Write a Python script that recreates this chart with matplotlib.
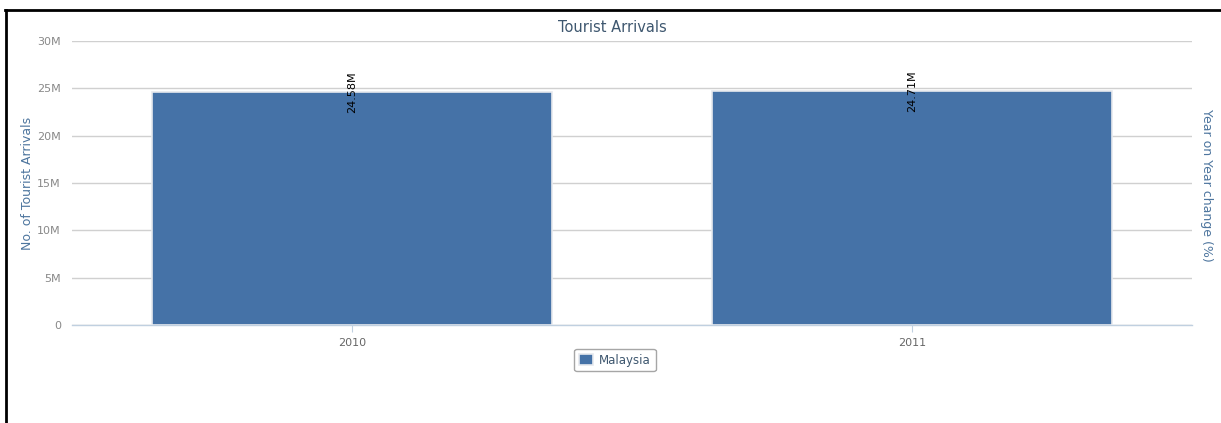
import matplotlib
matplotlib.use("Agg")
import matplotlib.pyplot as plt
from matplotlib.lines import Line2D
from matplotlib.ticker import FuncFormatter

years = ["2010", "2011"]
arrivals = [24.58e6, 24.71e6]
value_labels = ["24.58M", "24.71M"]
series_name = "Malaysia"
yticks = [0, 5e6, 10e6, 15e6, 20e6, 25e6, 30e6]

W, H = 1221, 423
fig = plt.figure(figsize=(W / 100, H / 100), dpi=100)
ax = fig.add_axes([72 / W, 1 - 325 / H, 1120 / W, 284 / H])

bar_color = "#4572A7"
x = list(range(len(years)))
bars = ax.bar(x, arrivals, width=0.715, color=bar_color, edgecolor="#e6e9ee",
              linewidth=1.2, zorder=3, label=series_name)
ax.set_xlim(-0.5, len(years) - 0.5)
ax.set_ylim(0, 30e6)
ax.set_yticks(yticks)
ax.yaxis.set_major_formatter(FuncFormatter(lambda v, p: "0" if v == 0 else f"{int(v/1e6)}M"))
ax.set_xticks(x)
ax.set_xticklabels(years)
ax.grid(axis="y", color="#d0d0d0", linewidth=1, zorder=0)
for s in ["top", "right", "left"]:
    ax.spines[s].set_visible(False)
ax.spines["bottom"].set_color("#c0d0e0")
ax.spines["bottom"].set_linewidth(1)
ax.tick_params(axis="y", length=0, pad=8, labelsize=8, labelcolor="#888888")
ax.tick_params(axis="x", length=5, color="#c0d0e0", pad=4, labelsize=8, labelcolor="#666666")

for xi, v, lab in zip(x, arrivals, value_labels):
    ax.text(xi, v, lab, rotation=90, ha="center", va="center",
            fontsize=8, color="black", zorder=5)

fig.text(28 / W, 1 - 183 / H, "No. of Tourist Arrivals", rotation=90,
         ha="center", va="center", fontsize=9, color="#4d759e")
fig.text(612 / W, 1 - 27 / H, "Tourist Arrivals", ha="center", va="center",
         fontsize=10.5, color="#3E576F")
fig.text(1206 / W, 1 - 185 / H, "Year on Year change (%)", rotation=-90,
         ha="center", va="center", fontsize=9, color="#4d759e")

# legend
leg = ax.legend(loc="upper center", bbox_to_anchor=(543 / 1120, -0.063), frameon=True,
                fontsize=8.5, handlelength=1.2, handleheight=1.0, borderpad=0.4,
                handletextpad=0.5, fancybox=True)
leg.get_frame().set_edgecolor("#909090")
leg.get_frame().set_linewidth(1)
for t in leg.get_texts():
    t.set_color("#3E576F")

# black page border
fig.add_artist(Line2D([6 / W, 6 / W], [0, 1 - 10 / H], color="black", linewidth=2))
fig.add_artist(Line2D([5 / W, 1], [1 - 10 / H, 1 - 10 / H], color="black", linewidth=2))

fig.savefig("out.png", dpi=100)
